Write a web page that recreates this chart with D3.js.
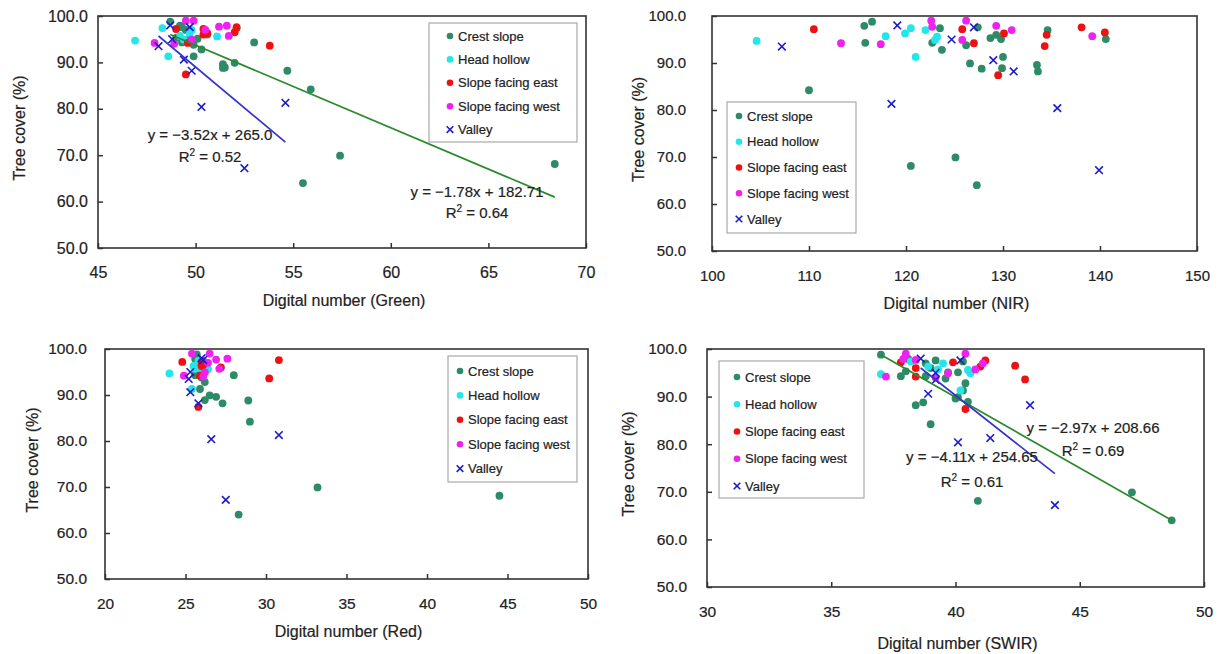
<!DOCTYPE html>
<html>
<head>
<meta charset="utf-8">
<title>Tree cover vs digital number</title>
<script src="https://d3js.org/d3.v7.min.js"></script>
<style>
body { margin: 0; background: #fff; }
svg { font-family: "Liberation Sans", Arial, sans-serif; }
.tick text { fill: #222; }
svg text { stroke: #222; stroke-width: 0.2px; }
</style>
</head>
<body>
<script>
// categories + bands
const categories = ["Crest slope", "Head hollow", "Slope facing east", "Slope facing west", "Valley"];
const bands = ["Green", "NIR", "Red", "SWIR"];
const xDomains = [[45, 70], [100, 150], [20, 50], [30, 50]];
const xTicks = [[45, 50, 55, 60, 65, 70], [100, 110, 120, 130, 140, 150], [20, 25, 30, 35, 40, 45, 50], [30, 35, 40, 45, 50]];
const yTicks = [50, 60, 70, 80, 90, 100];

// each row: [tree cover %, Green, NIR, Red, SWIR]
const crestSlope = [
  [98.8, 48.7, 116.5, 25.7, 37.0],
  [97.9, 49.2, 115.7, 25.6, 38.1],
  [97.6, 49.3, 127.4, 25.8, 39.2],
  [97.4, 52.1, 123.5, 26.1, 40.3],
  [97.0, 49.5, 134.6, 25.9, 38.8],
  [96.0, 50.6, 129.3, 26.3, 39.0],
  [95.3, 49.0, 128.7, 25.8, 38.0],
  [95.1, 49.7, 129.8, 26.0, 39.7],
  [95.1, 50.1, 140.6, 26.2, 40.1],
  [94.3, 49.3, 115.8, 25.6, 37.8],
  [94.3, 53.0, 122.7, 28.0, 38.8],
  [93.8, 49.9, 126.2, 26.0, 39.6],
  [92.8, 50.3, 123.7, 26.2, 40.4],
  [91.3, 49.9, 130.0, 25.9, 40.3],
  [89.9, 52.0, 126.6, 26.5, 40.1],
  [89.6, 51.4, 133.5, 26.9, 40.0],
  [88.9, 51.5, 129.9, 26.2, 40.5],
  [88.8, 51.4, 127.8, 28.9, 38.7],
  [88.2, 54.7, 133.6, 27.3, 38.4],
  [84.2, 55.9, 110.0, 29.0, 39.0],
  [69.9, 57.4, 125.1, 33.2, 47.1],
  [68.1, 68.4, 120.5, 44.5, 40.9],
  [64.0, 55.5, 127.3, 28.3, 48.7]
];
const headHollow = [
  [94.7, 46.9, 104.6, 24.0, 37.0],
  [95.7, 49.2, 117.9, 25.6, 39.3],
  [96.3, 49.7, 119.9, 25.5, 38.9],
  [97.4, 48.3, 120.5, 25.8, 38.2],
  [91.3, 48.6, 121.0, 25.4, 40.2],
  [97.0, 49.8, 122.0, 26.1, 39.5],
  [95.6, 51.1, 123.2, 26.4, 40.5],
  [94.9, 49.4, 123.0, 26.0, 40.6]
];
const slopeEast = [
  [97.2, 49.0, 110.5, 24.8, 37.8],
  [97.2, 50.4, 125.8, 26.0, 39.9],
  [94.2, 49.6, 127.0, 25.9, 38.4],
  [87.4, 49.5, 129.5, 25.8, 40.4],
  [96.3, 50.6, 130.1, 26.0, 41.0],
  [96.0, 50.4, 134.5, 27.2, 38.4],
  [93.6, 53.8, 134.3, 30.2, 42.8],
  [97.6, 52.1, 138.1, 30.8, 41.2],
  [96.5, 52.0, 140.5, 26.1, 42.4]
];
const slopeWest = [
  [94.2, 47.9, 113.3, 24.9, 37.2],
  [94.0, 48.9, 117.4, 26.1, 39.2],
  [99.0, 49.5, 122.6, 25.4, 38.0],
  [97.7, 51.2, 122.7, 26.9, 38.4],
  [99.0, 49.9, 126.2, 26.5, 40.4],
  [94.9, 49.8, 125.8, 26.2, 39.7],
  [97.9, 51.6, 129.3, 27.6, 37.9],
  [97.0, 50.5, 130.9, 26.4, 41.1],
  [95.7, 51.7, 139.2, 27.1, 40.8]
];
const valley = [
  [98.0, 48.7, 119.1, 26.0, 38.6],
  [97.6, 49.7, 127.0, 26.1, 40.2],
  [95.0, 48.8, 124.7, 25.3, 39.2],
  [93.5, 48.1, 107.2, 25.2, 39.2],
  [90.6, 49.4, 129.0, 25.3, 38.9],
  [88.2, 49.8, 131.1, 25.8, 43.0],
  [81.3, 54.6, 118.5, 30.8, 41.4],
  [80.4, 50.3, 135.6, 26.6, 40.1],
  [67.2, 52.5, 139.9, 27.5, 44.0]
];
const seriesData = [crestSlope, headHollow, slopeEast, slopeWest, valley];

// linear trend lines shown on the chart (band index, category index)
const trendBand = [0, 0, 3, 3];
const trendCat = [0, 4, 0, 4];
const trendSlope = [-1.78, -3.52, -2.97, -4.11];
const trendIntercept = [182.71, 265.0, 208.66, 254.65];
const trendEq = ["y = \u22121.78x + 182.71", "y = \u22123.52x + 265.0", "y = \u22122.97x + 208.66", "y = \u22124.11x + 254.65"];
const trendR2 = ["0.64", "0.52", "0.69", "0.61"];

// ---- styling / layout (kept apart from the data) ----
const colors = ["#2e8b68", "#22e6ea", "#ee1111", "#ee22ee", "#1c1cc8"];
const trendColors = ["#2b8a2b", null, null, null, "#3434cf"];

const layout = [
  {left: 98, top: 16, right: 586, bottom: 248, yPad: 10, yTitleX: 19, tickFs: 16, titleDy: 58,
   legend: {x: 429, y: 23, w: 148, h: 119, row0: 36, step: 23.4, mx: 450, tx: 458}},
  {left: 712, top: 16, right: 1197, bottom: 251, yPad: 26, yTitleX: 638, tickFs: 15, titleDy: 58,
   legend: {x: 727, y: 102, w: 129, h: 131, row0: 116, step: 25.75, mx: 739, tx: 747}},
  {left: 105, top: 349, right: 588, bottom: 579, yPad: 18, yTitleX: 32, tickFs: 15.5, titleDy: 58,
   legend: {x: 448, y: 356, w: 129, h: 126, row0: 371, step: 24.4, mx: 460, tx: 468}},
  {left: 707, top: 349, right: 1204, bottom: 587, yPad: 20, yTitleX: 628, tickFs: 15.5, titleDy: 62,
   legend: {x: 719, y: 361, w: 145, h: 137, row0: 377, step: 27.25, mx: 737, tx: 745}}
];
// equation label centers [eqX, eqY, r2X, r2Y]
const eqPos = [[477, 192, 477, 213], [210, 135, 210, 157], [1093, 428, 1093, 451], [972, 457, 972, 482]];

const svg = d3.select("body").append("svg")
  .attr("width", 1220)
  .attr("height", 654);

function crossPath(s) {
  return `M${-s},${-s}L${s},${s}M${-s},${s}L${s},${-s}`;
}

bands.forEach((band, i) => {
  const L = layout[i];
  const x = d3.scaleLinear().domain(xDomains[i]).range([L.left, L.right]);
  const y = d3.scaleLinear().domain([50, 100]).range([L.bottom, L.top]);
  const g = svg.append("g");

  // axes, ticks pointing inside
  const xAxis = g.append("g")
    .attr("transform", `translate(0,${L.bottom})`)
    .call(d3.axisBottom(x).tickValues(xTicks[i]).tickSizeInner(-5).tickSizeOuter(0).tickPadding(19).tickFormat(d3.format("d")));
  const yAxis = g.append("g")
    .attr("transform", `translate(${L.left},0)`)
    .call(d3.axisLeft(y).tickValues(yTicks).tickSizeInner(-5).tickSizeOuter(0).tickPadding(L.yPad).tickFormat(d3.format(".1f")));
  [xAxis, yAxis].forEach(a => {
    a.select(".domain").remove();
    a.selectAll(".tick line").attr("stroke", "#333").attr("stroke-width", 1.5);
    a.selectAll(".tick text").attr("font-size", L.tickFs).attr("font-family", "Liberation Sans, Arial, sans-serif");
  });

  // plot frame
  g.append("rect")
    .attr("x", L.left).attr("y", L.top)
    .attr("width", L.right - L.left).attr("height", L.bottom - L.top)
    .attr("fill", "none").attr("stroke", "#333").attr("stroke-width", 1.6);

  // axis titles
  g.append("text")
    .attr("x", (L.left + L.right) / 2 + 2)
    .attr("y", L.bottom + L.titleDy)
    .attr("text-anchor", "middle")
    .attr("font-size", 16)
    .attr("fill", "#222")
    .text(`Digital number (${band})`);
  g.append("text")
    .attr("transform", `translate(${L.yTitleX + 6},${(L.top + L.bottom) / 2 - 4}) rotate(-90)`)
    .attr("text-anchor", "middle")
    .attr("font-size", 16)
    .attr("fill", "#222")
    .text("Tree cover (%)");

  // points
  seriesData.forEach((rows, c) => {
    if (c === 4) {
      g.selectAll(null).data(rows).enter().append("path")
        .attr("d", crossPath(3.8))
        .attr("transform", d => `translate(${x(d[i + 1])},${y(d[0])})`)
        .attr("stroke", colors[c]).attr("stroke-width", 1.6).attr("fill", "none");
    } else {
      g.selectAll(null).data(rows).enter().append("circle")
        .attr("cx", d => x(d[i + 1]))
        .attr("cy", d => y(d[0]))
        .attr("r", 3.9)
        .attr("fill", colors[c]);
    }
  });

  // trend lines + equations
  trendBand.forEach((b, t) => {
    if (b !== i) return;
    const c = trendCat[t];
    const ext = d3.extent(seriesData[c], d => d[i + 1]);
    const f = v => trendSlope[t] * v + trendIntercept[t];
    g.append("line")
      .attr("x1", x(ext[0])).attr("y1", y(f(ext[0])))
      .attr("x2", x(ext[1])).attr("y2", y(f(ext[1])))
      .attr("stroke", trendColors[c]).attr("stroke-width", 1.7);
    const p = eqPos[t];
    g.append("text")
      .attr("x", p[0]).attr("y", p[1] + 5)
      .attr("text-anchor", "middle").attr("font-size", 15).attr("fill", "#222")
      .text(trendEq[t]);
    const r = g.append("text")
      .attr("x", p[2]).attr("y", p[3] + 5)
      .attr("text-anchor", "middle").attr("font-size", 15).attr("fill", "#222");
    r.append("tspan").text("R");
    r.append("tspan").attr("font-size", 10).attr("dy", -6).text("2");
    r.append("tspan").attr("dy", 6).text(" = " + trendR2[t]);
  });

  // legend
  const lg = L.legend;
  g.append("rect")
    .attr("x", lg.x).attr("y", lg.y).attr("width", lg.w).attr("height", lg.h)
    .attr("fill", "#fff").attr("stroke", "#a8a8a8").attr("stroke-width", 1.2);
  categories.forEach((name, c) => {
    const ry = lg.row0 + c * lg.step;
    if (c === 4) {
      g.append("path").attr("d", crossPath(3.3))
        .attr("transform", `translate(${lg.mx},${ry})`)
        .attr("stroke", colors[c]).attr("stroke-width", 1.6).attr("fill", "none");
    } else {
      g.append("circle").attr("cx", lg.mx).attr("cy", ry).attr("r", 3.3).attr("fill", colors[c]);
    }
    g.append("text")
      .attr("x", lg.tx).attr("y", ry + 4.5)
      .attr("font-size", 13).attr("fill", "#222")
      .text(name);
  });
});
</script>
</body>
</html>
